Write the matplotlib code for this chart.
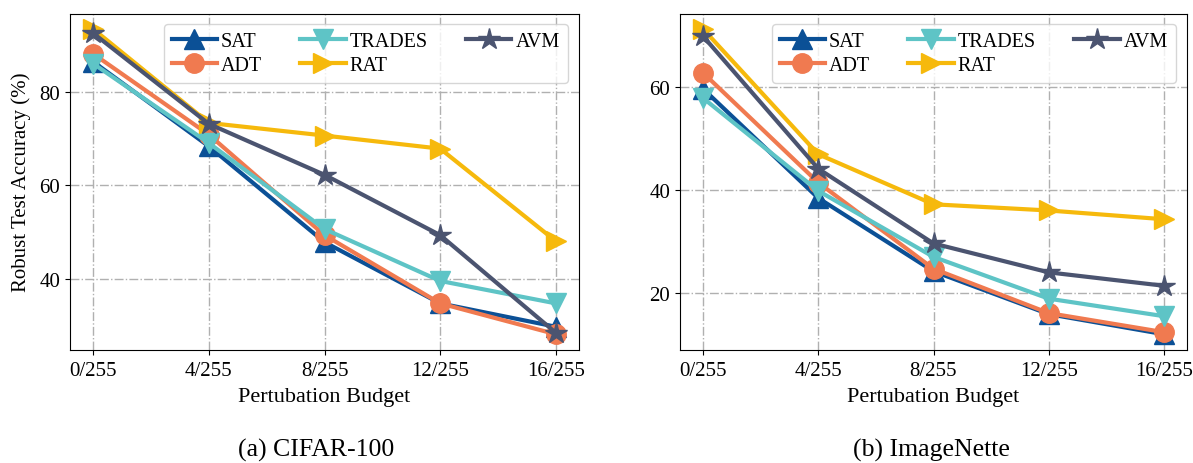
import matplotlib.pyplot as plt

plt.rcParams['font.family'] = ['Liberation Serif', 'DejaVu Serif']
plt.rcParams['mathtext.fontset'] = 'stix'

budgets = ['0/255', '4/255', '8/255', '12/255', '16/255']
methods = ['SAT', 'ADT', 'TRADES', 'RAT', 'AVM']

# CIFAR-100
cifar_sat = [86.4, 68.3, 47.8, 34.7, 29.7]
cifar_adt = [88.1, 70.8, 49.3, 34.7, 28.1]
cifar_trades = [86.0, 69.0, 50.6, 39.5, 34.7]
cifar_rat = [93.4, 73.3, 70.6, 67.8, 48.0]
cifar_avm = [92.5, 73.1, 62.2, 49.3, 28.4]

# ImageNette
inet_sat = [59.6, 38.4, 24.2, 15.9, 12.0]
inet_adt = [62.7, 41.4, 24.7, 16.1, 12.4]
inet_trades = [57.8, 39.8, 27.0, 18.9, 15.5]
inet_rat = [71.2, 46.9, 37.2, 36.0, 34.3]
inet_avm = [69.8, 44.1, 29.6, 24.0, 21.4]

colors = {'SAT': '#0b5096', 'ADT': '#f07a50', 'TRADES': '#5ec4c6',
          'RAT': '#f6b90c', 'AVM': '#4b5470'}
markers = {'SAT': '^', 'ADT': 'o', 'TRADES': 'v', 'RAT': '>', 'AVM': '*'}

fig = plt.figure(figsize=(11.93, 4.64), dpi=100)
ax1 = fig.add_axes([70 / 1193, 0.2446, 509 / 1193, 0.7237])
ax2 = fig.add_axes([680 / 1193, 0.2446, 507 / 1193, 0.7237])

data = [
    (ax1, [cifar_sat, cifar_adt, cifar_trades, cifar_rat, cifar_avm], [40, 60, 80]),
    (ax2, [inet_sat, inet_adt, inet_trades, inet_rat, inet_avm], [20, 40, 60]),
]
x = list(range(len(budgets)))
for ax, series, yt in data:
    for name, vals in zip(methods, series):
        ax.plot(x, vals, color=colors[name], marker=markers[name],
                linewidth=3, markersize=14 if name != 'AVM' else 16, label=name)
    ax.set_xticks(x)
    ax.set_xticklabels(budgets, fontsize=15)
    ax.set_yticks(yt)
    ax.tick_params(axis='y', labelsize=15)
    ax.tick_params(axis='x', pad=5)
    ax.set_xlabel('Pertubation Budget', fontsize=16, labelpad=5)
    ax.grid(True, linestyle='-.', color='#b0b0b0', linewidth=1)
    ax.set_axisbelow(True)
    ax.legend(loc='upper right', ncol=3, fontsize=14.5, handlelength=2.25,
              columnspacing=1.9, labelspacing=0.25, borderpad=0.4,
              handletextpad=0.2, framealpha=0.8, edgecolor='#cccccc',
              borderaxespad=0, bbox_to_anchor=(0.978, 0.970))

ax1.set_ylabel('Robust Test Accuracy (%)', fontsize=15, labelpad=6)

fig.text(0.265, 0.030, '(a) CIFAR-100', ha='center', va='center', fontsize=18.5)
fig.text(0.781, 0.030, '(b) ImageNette', ha='center', va='center', fontsize=18.5)

fig.savefig('out.png', dpi=100)
